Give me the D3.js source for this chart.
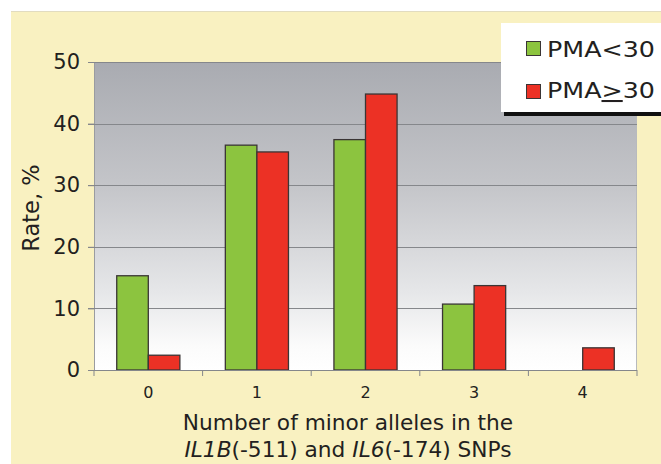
<!DOCTYPE html>
<html><head><meta charset="utf-8">
<script src="https://cdn.jsdelivr.net/npm/d3@7"></script>
<style>body{margin:0;background:#fff}svg{display:block}text{font-family:"DejaVu Sans",sans-serif;fill:#231f20}</style>
</head><body><svg id="c" width="661" height="464"></svg>
<script>
const categories = ["0","1","2","3","4"];
const seriesNames = ["PMA<30","PMA>=30"];
const pmaBelow30 = [15.3, 36.5, 37.4, 10.7, 0];
const pmaAtLeast30 = [2.4, 35.4, 44.8, 13.7, 3.6];
const yTicks = [0,10,20,30,40,50];
const colors = ["#8cc43f","#ec3125"];

const svg = d3.select("#c");
const W=661,H=464;
const L=94,R=637,T=62,B=370;

svg.append("rect").attr("x",11).attr("y",11).attr("width",W-11).attr("height",H-11).attr("fill","#f9f1c1");
svg.append("line").attr("x1",11).attr("x2",W).attr("y1",11.5).attr("y2",11.5).attr("stroke","#e2dcc0");

const defs=svg.append("defs");
const g=defs.append("linearGradient").attr("id","pg").attr("x1",0).attr("x2",0).attr("y1",0).attr("y2",1);
[[0,"#a9abb1"],[0.4,"#c4c5c9"],[0.75,"#e6e7e9"],[0.92,"#fbfbfb"],[1,"#ffffff"]].forEach(s=>g.append("stop").attr("offset",s[0]).attr("stop-color",s[1]));

const x=d3.scaleBand().domain(categories).range([L,R]).padding(0);
const xs=d3.scaleBand().domain(seriesNames).range([0,x.bandwidth()]).paddingInner(0).paddingOuter(0.72);
const y=d3.scaleLinear().domain([0,50]).range([B,T]);

svg.append("rect").attr("x",L).attr("y",T).attr("width",R-L).attr("height",B-T).attr("fill","url(#pg)");
svg.append("line").attr("x1",L+0.5).attr("x2",L+0.5).attr("y1",T).attr("y2",B).attr("stroke","#9a9ca0");
svg.append("line").attr("x1",R-0.5).attr("x2",R-0.5).attr("y1",T).attr("y2",B).attr("stroke","#b8babd");

// grid
svg.append("g").selectAll("line").data(yTicks.filter(d=>d>0)).join("line")
  .attr("x1",L-6).attr("x2",R).attr("y1",d=>Math.round(y(d))+0.5).attr("y2",d=>Math.round(y(d))+0.5)
  .attr("stroke","#85878b").attr("stroke-width",1);

// y axis labels
const ya=svg.append("g").attr("transform",`translate(${L},0)`)
  .call(d3.axisLeft(y).tickValues(yTicks).tickSize(6).tickPadding(8).tickFormat(d3.format("d")));
ya.select(".domain").remove();
ya.selectAll(".tick line").attr("stroke","#85878b");
ya.selectAll("text").attr("font-size",21).attr("font-family","DejaVu Sans").attr("fill","#231f20");

// bars
const data=categories.map((c,i)=>({c,vals:[pmaBelow30[i],pmaAtLeast30[i]]}));
const grp=svg.append("g").selectAll("g").data(data).join("g").attr("transform",d=>`translate(${x(d.c)},0)`);
grp.selectAll("rect").data(d=>d.vals.map((v,j)=>({v,s:seriesNames[j],j})).filter(e=>e.v>0)).join("rect")
  .attr("x",e=>xs(e.s)).attr("width",xs.bandwidth()).attr("y",e=>y(e.v)).attr("height",e=>y(0)-y(e.v))
  .attr("fill",e=>colors[e.j]).attr("stroke","#3a3535").attr("stroke-width",1.3);

// x axis
svg.append("line").attr("x1",L-6).attr("x2",R).attr("y1",B+0.5).attr("y2",B+0.5).attr("stroke","#85878b");
const bounds=categories.map(c=>x(c)).concat([R]);
svg.append("g").selectAll("line").data(bounds).join("line")
  .attr("x1",d=>d).attr("x2",d=>d).attr("y1",B).attr("y2",B+6).attr("stroke","#85878b");
const xa=svg.append("g").attr("transform",`translate(0,${B})`).call(d3.axisBottom(x).tickSize(0).tickPadding(17));
xa.select(".domain").remove();
xa.selectAll("text").attr("font-size",16).attr("font-family","DejaVu Sans").attr("fill","#231f20");

// axis titles
svg.append("text").attr("x",348).attr("y",430).attr("text-anchor","middle").attr("font-size",21.7).text("Number of minor alleles in the");
const t2=svg.append("text").attr("x",348).attr("y",457).attr("text-anchor","middle").attr("font-size",21.7);
t2.append("tspan").attr("font-style","italic").text("IL1B");
t2.append("tspan").text("(-511) and ");
t2.append("tspan").attr("font-style","italic").text("IL6");
t2.append("tspan").text("(-174) SNPs");
svg.append("text").attr("transform","translate(39,208) rotate(-90)").attr("text-anchor","middle").attr("font-size",22.5).text("Rate, %");

// legend
svg.append("rect").attr("x",504).attr("y",27).attr("width",170).attr("height",89).attr("fill","#111");
svg.append("rect").attr("x",501).attr("y",23).attr("width",170).attr("height",89).attr("fill","#fff");
const leg=svg.append("g");
const ly=[41,84];
seriesNames.forEach((s,i)=>{
  leg.append("rect").attr("x",526.5).attr("y",ly[i]+0.5).attr("width",14).attr("height",14).attr("fill",colors[i]).attr("stroke","#3a3535").attr("stroke-width",1);
});
leg.append("text").attr("x",547).attr("y",57).attr("font-size",20.5).attr("textLength",108).attr("lengthAdjust","spacingAndGlyphs").text("PMA<30");
const lt2=leg.append("text").attr("x",547).attr("y",98).attr("font-size",20.5).attr("textLength",108).attr("lengthAdjust","spacingAndGlyphs");
lt2.append("tspan").text("PMA");
lt2.append("tspan").style("text-decoration","underline").text(">");
lt2.append("tspan").text("30");
</script></body></html>
